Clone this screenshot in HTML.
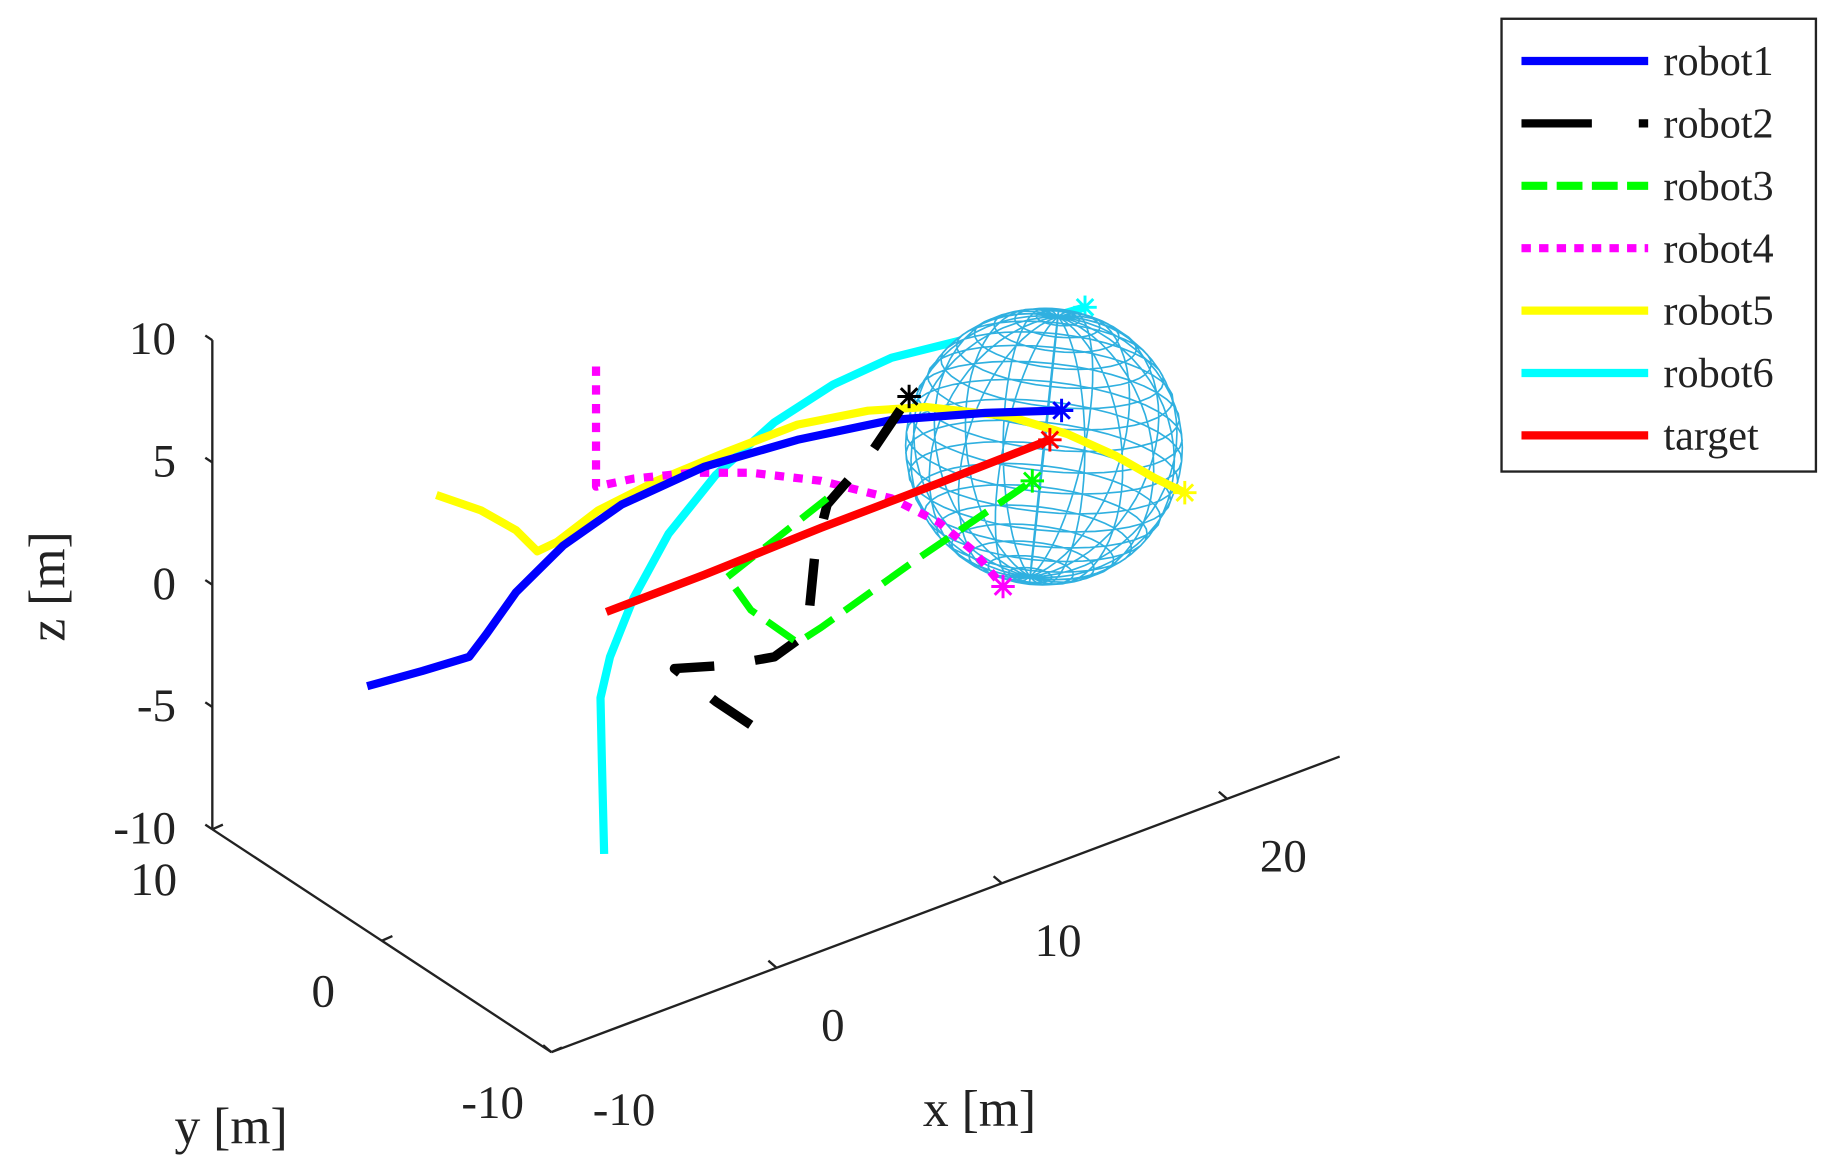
<!DOCTYPE html>
<html><head><meta charset="utf-8"><style>
html,body{margin:0;padding:0;background:#fff;}
svg{display:block;font-family:"Liberation Serif",serif;}
</style></head><body>
<svg id="chart" width="1830" height="1173" viewBox="0 0 1560 1000" preserveAspectRatio="none" xmlns="http://www.w3.org/2000/svg">
<rect width="1560" height="1000" fill="#fff"/>
<g id="axes"></g>
<g id="back"></g>
<g id="sphere"></g>
<g id="series"></g>
<g id="legend">
<rect x="1280" y="16" width="268" height="386" fill="#fff" stroke="#222" stroke-width="2"/>
</g>
</svg>
<script>
const zTicks=[-10,-5,0,5,10];
const yTicks=[-10,0,10];
const xTicks=[-10,0,10,20];
const names=["robot1","robot2","robot3","robot4","robot5","robot6","target"];
const r1x=[-10.65,-8.2,-6.12,-5.34,-4.04,-1.95,0.65,4.3,8.46,12.63,16.8,20.18];
const r1z=[0.63,0.41,0.27,0.95,2.19,3.38,4.16,4.44,4.11,3.48,2.33,1.26];
const r2x=[6.38,4.82,2.99,5.34,7.42,8.88,9.24,9.77,11.59,13.41];
const r2z=[-6.83,-5.33,-3.36,-4.03,-4.41,-3.95,-0.72,1.01,2.31,4.17];
const r3x=[9.77,5.34,6.38,8.46,9.5,13.67,18.88];
const r3z=[1.26,-0.43,-2.13,-4.19,-3.93,-2.63,-1.17];
const r4x=[-0.49,-0.49,1.17,3.78,6.38,9.5,12.63,14.71,16.28,17.58];
const r4z=[10.2,5.28,5.04,4.38,3.48,2.07,0.27,-1.41,-3.15,-5.04];
const r5x=[-7.58,-5.6,-4.04,-3.1,-2.21,-0.39,2.21,5.34,8.46,11.59,14.19,17.84,20.44,22.53,24.35,25.65];
const r5z=[7.39,6.08,4.73,3.54,3.62,4.28,4.59,4.7,4.73,4.22,3.47,1.83,0.21,-1.38,-2.96,-3.99];
const r6x=[-0.13,-0.23,-0.29,0.13,1.17,2.73,4.82,7.42,10.03,12.63,15.76,18.88,21.22];
const r6z=[-9.86,-6.08,-3.42,-1.89,0.15,2.24,3.92,5.18,5.82,6.02,5.66,5.3,5.12];
const tx=[-0.03,4.3,9.5,14.71,19.66];
const tz=[0,0.02,0.15,0.17,0.24];
const sphereCenter=[19.4,0,0.05];
const sphereRadius=5.7;

const NS="http://www.w3.org/2000/svg";
function el(tag,attrs,parent){const e=document.createElementNS(NS,tag);for(const k in attrs)e.setAttribute(k,attrs[k]);parent.appendChild(e);return e;}
const O=[517.5,521.5],EX=[19.2,-7.2],EY=[-14.45,-9.5],EZ=[0,-20.85];
function proj(x,y,z){return [O[0]+x*EX[0]+y*EY[0]+z*EZ[0],O[1]+x*EX[1]+y*EY[1]+z*EZ[1]];}
const axes=document.getElementById('axes');
function line(p,q,parent,stroke,w){return el('line',{x1:p[0],y1:p[1],x2:q[0],y2:q[1],stroke:stroke,'stroke-width':w},parent);}
let a=line(proj(-10,10,-10),proj(-10,10,10),axes,'#222',2);

a=line(proj(-10,10,-10),proj(-10,-10,-10),axes,'#222',2);

a=line(proj(-10,-10,-10),proj(25,-10,-10),axes,'#222',2);

function txt(s,x,y,anchor,size,parent){const t=el('text',{x:x,y:y,'text-anchor':anchor,'font-size':size,fill:'#222'},parent);t.textContent=s;return t;}
zTicks.forEach(v=>{const p=proj(-10,10,v);line(p,[p[0]-6,p[1]-4],axes,'#222',2);
 const t=txt(String(v),150,p[1]+12,'end',40,axes);});
yTicks.forEach(v=>{const p=proj(-10,v,-10);line(p,[p[0]+9,p[1]-4],axes,'#222',2);
 const t=txt(String(v),p[0]-50,p[1]+56,'middle',40,axes);});
xTicks.forEach(v=>{const p=proj(v,-10,-10);line(p,[p[0]-7,p[1]-6],axes,'#222',2);
 const t=txt(String(v),p[0]+(v===-10?62:48),p[1]+62,'middle',40,axes);});
let t=txt('x [m]',835,960,'middle',44,axes);
t=txt('y [m]',197,975,'middle',44,axes);
t=txt('z [m]',0,0,'middle',44,axes);t.setAttribute('transform','translate(55,500) rotate(-90)');


const back=document.getElementById('back');
const series=document.getElementById('series');
function star(p,color,parent){for(let k=0;k<4;k++){const an=k*Math.PI/4;line([p[0]-10*Math.cos(an),p[1]-10*Math.sin(an)],[p[0]+10*Math.cos(an),p[1]+10*Math.sin(an)],parent,color,2.5);}}
function drawSeries(xs,zs,color,w,dash,name,parent){
 const pts=xs.map((x,i)=>proj(x,0,zs[i]));
 const g=el('g',{},parent);
 
 
 const attrs={points:pts.map(p=>p[0].toFixed(1)+','+p[1].toFixed(1)).join(' '),fill:'none',stroke:color,'stroke-width':w,'stroke-linejoin':'round'};
 if(dash)attrs['stroke-dasharray']=dash;
 el('polyline',attrs,g);
 star(pts[pts.length-1],color,g);
}
drawSeries(r6x,r6z,'#00ffff',7,null,'robot6',back);

// sphere wireframe
const sg=document.getElementById('sphere');
const c=proj(sphereCenter[0],sphereCenter[1],sphereCenter[2]);
const R=sphereRadius*20.7;
el('circle',{cx:c[0],cy:c[1],r:R-1,fill:'#fff'},sg);
const tilt=0.35,rot=0.3;
function sp(th,ph){let x=Math.cos(ph)*Math.cos(th),y=Math.cos(ph)*Math.sin(th),z=Math.sin(ph);
 let y2=y*Math.cos(tilt)-z*Math.sin(tilt),z2=y*Math.sin(tilt)+z*Math.cos(tilt);
 let x3=x*Math.cos(rot)-y2*Math.sin(rot);
 return [c[0]+x3*R,c[1]-z2*R];}
let d='';
for(let i=0;i<20;i++){const th=i*Math.PI/10;d+='M';for(let j=0;j<=30;j++){const p=sp(th,-Math.PI/2+j*Math.PI/30);d+=p[0].toFixed(1)+' '+p[1].toFixed(1)+' ';}}
for(let j=1;j<20;j++){const ph=-Math.PI/2+j*Math.PI/20;d+='M';for(let i=0;i<=40;i++){const p=sp(i*Math.PI/20,ph);d+=p[0].toFixed(1)+' '+p[1].toFixed(1)+' ';}}
el('path',{d:d,fill:'none',stroke:'#2fb0e0','stroke-width':1.4},sg);

drawSeries(r5x,r5z,'#ffff00',7,null,'robot5',series);
drawSeries(r4x,r4z,'#ff00ff',7,'8 8','robot4',series);
drawSeries(r1x,r1z,'#0000ff',7,null,'robot1',series);
drawSeries(r2x,r2z,'#000000',8,'40 35','robot2',series);
drawSeries(r3x,r3z,'#00ff00',6,'28 12','robot3',series);
drawSeries(tx,tz,'#ff0000',7,null,'target',series);

const lg=document.getElementById('legend');
const lcol=['#0000ff','#000','#00ff00','#ff00ff','#ffff00','#00ffff','#ff0000'];
const ldash=[null,'60 40','22 8','8 7',null,null,null];
names.forEach((n,i)=>{const y=52+i*53.2;
 const g=el('g',{},lg);
 
 
 const at={x1:1297,y1:y,x2:1405,y2:y,stroke:lcol[i],'stroke-width':7};
 if(ldash[i])at['stroke-dasharray']=ldash[i];
 el('line',at,g);
 txt(n,1418,y+12,'start',36,g);});
</script>
</body></html>
